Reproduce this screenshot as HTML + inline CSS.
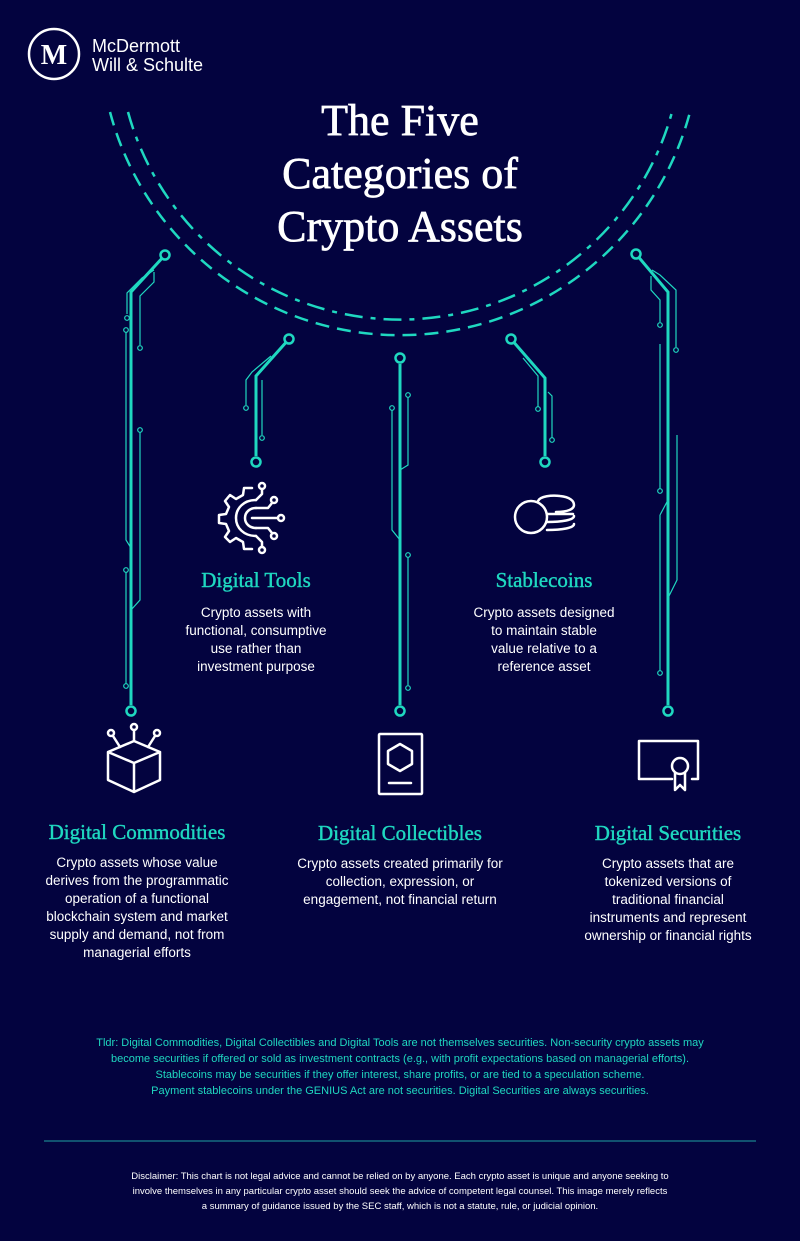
<!DOCTYPE html>
<html><head><meta charset="utf-8"><style>
html,body{margin:0;padding:0;background:#03033f;}
body{width:800px;height:1241px;overflow:hidden;position:relative;}
svg{position:absolute;left:0;top:0;}
.s{font-family:"Liberation Serif",serif;}
.a{font-family:"Liberation Sans",sans-serif;}
</style></head><body>
<svg width="800" height="1241" viewBox="0 0 800 1241">
<rect width="800" height="1241" fill="#03033f"/>
<!-- logo -->
<circle cx="54" cy="54" r="25" fill="none" stroke="#fff" stroke-width="2.5"/>
<text x="54" y="64" text-anchor="middle" class="s" font-size="28" font-weight="bold" fill="#fff">M</text>
<text x="92" y="52" class="a" font-size="18" fill="#fff">McDermott</text>
<text x="92" y="71" class="a" font-size="18" fill="#fff">Will &amp; Schulte</text>
<!-- title -->
<g class="s" font-size="44" fill="#fff" stroke="#fff" stroke-width="0.7" text-anchor="middle">
<text x="400" y="135">The Five</text>
<text x="400" y="188">Categories of</text>
<text x="400" y="241">Crypto Assets</text>
</g>
<!-- arcs -->
<g fill="none" stroke="#1fd8c0" stroke-width="2.5">
<path d="M110 112 A300 300 0 0 0 690 112" stroke-dasharray="14 8"/>
<path d="M128 112 A282 282 0 0 0 672 112" stroke-dasharray="18 8 5 8"/>
</g>
<!-- main circuit lines -->
<g fill="none" stroke="#1fd8c0" stroke-width="3">
<path d="M165 255 L131 292 L131 705"/>
<path d="M289 339 L256 376 L256 456"/>
<path d="M400 364 L400 705"/>
<path d="M511 339 L545 378 L545 456"/>
<path d="M636 254 L668 292 L668 705"/>
</g>
<g fill="#03033f" stroke="#1fd8c0" stroke-width="2.5">
<circle cx="165" cy="255" r="4.5"/><circle cx="131" cy="711" r="4.5"/>
<circle cx="289" cy="339" r="4.5"/><circle cx="256" cy="462" r="4.5"/>
<circle cx="400" cy="358" r="4.5"/><circle cx="400" cy="711" r="4.5"/>
<circle cx="511" cy="339" r="4.5"/><circle cx="545" cy="462" r="4.5"/>
<circle cx="636" cy="254" r="4.5"/><circle cx="668" cy="711" r="4.5"/>
</g>
<!-- thin side traces -->
<g fill="none" stroke="#1fd8c0" stroke-width="1.2">
<path d="M154 270 L142 278 L127 293 L127 314"/>
<path d="M154 272 L154 282 L140 296 L140 345"/>
<path d="M126 330 L126 540 L131 548"/>
<path d="M140 430 L140 600 L131 610"/>
<path d="M126 570 L126 684"/>
<path d="M271 356 L252 372 L246 380 L246 405"/>
<path d="M262 380 L262 435"/>
<path d="M408 395 L408 465 L400 470"/>
<path d="M392 408 L392 530 L400 540"/>
<path d="M408 555 L408 685"/>
<path d="M523 358 L538 376 L538 408"/>
<path d="M548 392 L552 396 L552 440"/>
<path d="M652 270 L660 275 L676 290 L676 347"/>
<path d="M651 276 L651 290 L660 300 L660 322"/>
<path d="M660 344 L660 490"/>
<path d="M660 515 L668 500 M660 515 L660 672"/>
<path d="M677 435 L677 580 L668 598"/>
</g>
<g fill="#03033f" stroke="#1fd8c0" stroke-width="1.2">
<circle cx="127" cy="318" r="2.3"/><circle cx="140" cy="348" r="2.3"/><circle cx="126" cy="330" r="2.3"/>
<circle cx="140" cy="430" r="2.3"/><circle cx="126" cy="570" r="2.3"/><circle cx="126" cy="686" r="2.3"/>
<circle cx="246" cy="408" r="2.3"/><circle cx="262" cy="438" r="2.3"/>
<circle cx="408" cy="395" r="2.3"/><circle cx="392" cy="408" r="2.3"/><circle cx="408" cy="555" r="2.3"/><circle cx="408" cy="688" r="2.3"/>
<circle cx="538" cy="409" r="2.3"/><circle cx="552" cy="440" r="2.3"/>
<circle cx="676" cy="350" r="2.3"/><circle cx="660" cy="325" r="2.3"/><circle cx="660" cy="491" r="2.3"/><circle cx="660" cy="673" r="2.3"/>
</g>
<!-- icons -->
<g fill="none" stroke="#fff" stroke-width="2.5" stroke-linecap="round" stroke-linejoin="round">
<path d="M252 488 L244 488 L243 495 L236 499 L230 495 L225 501 L229 507 L226 514 L219 515 L219 523 L226 524 L229 531 L225 537 L230 542 L236 538 L243 542 L244 549 L252 549"/>
<path d="M256 500 C244 500 236 508 236 518 C236 528 244 536 256 536"/>
<path d="M256 508 C250 508 245 512 245 518 C245 524 250 528 256 528"/>
<path d="M256 500 L262 494 L262 489 M256 508 L268 508 L272 503 M252 518 L278 518 M256 528 L268 528 L272 533 M256 536 L262 542 L262 547"/>
<circle cx="262" cy="486" r="3"/><circle cx="274" cy="500" r="3"/><circle cx="281" cy="518" r="3"/><circle cx="274" cy="536" r="3"/><circle cx="262" cy="550" r="3"/>
<circle cx="531" cy="517" r="16"/>
<path d="M538 501 C540 496 552 495 560 496 C570 497 574 501 574 505 C574 509 568 512 556 512 M547 514 L573 514 M547 522 C562 522 574 520 574 516 M547 530 C562 530 574 528 574 524"/>
<path d="M108 752 L134 741 L160 752 L134 763 Z M108 752 L108 780 L134 792 L160 780 L160 752 M134 763 L134 792"/>
<path d="M134 741 L134 730 M120 747 L113 736 M148 747 L155 736"/>
<circle cx="134" cy="727" r="3"/><circle cx="111" cy="733" r="3"/><circle cx="157" cy="733" r="3"/>
<rect x="379" y="734" width="43" height="60" rx="1"/>
<path d="M400 744 L412 751 L412 764 L400 771 L388 764 L388 751 Z M389 783 L411 783"/>
<path d="M672 779 L639 779 L639 741 L698 741 L698 779 L692 779"/>
<circle cx="680" cy="766" r="8"/>
<path d="M675 773 L675 790 L680 785 L685 790 L685 773"/>
</g>
<!-- headings -->
<g class="s" font-size="21" fill="#1fd8c0" stroke="#1fd8c0" stroke-width="0.4" text-anchor="middle">
<text x="256" y="587">Digital Tools</text>
<text x="544" y="587">Stablecoins</text>
<text x="137" y="839">Digital Commodities</text>
<text x="400" y="840">Digital Collectibles</text>
<text x="668" y="840">Digital Securities</text>
</g>
<g class="a" font-size="13.5" fill="#fff" text-anchor="middle">
<text x="256" y="617">Crypto assets with</text>
<text x="256" y="635">functional, consumptive</text>
<text x="256" y="653">use rather than</text>
<text x="256" y="671">investment purpose</text>
<text x="544" y="617">Crypto assets designed</text>
<text x="544" y="635">to maintain stable</text>
<text x="544" y="653">value relative to a</text>
<text x="544" y="671">reference asset</text>
<text x="137" y="867">Crypto assets whose value</text>
<text x="137" y="885">derives from the programmatic</text>
<text x="137" y="903">operation of a functional</text>
<text x="137" y="921">blockchain system and market</text>
<text x="137" y="939">supply and demand, not from</text>
<text x="137" y="957">managerial efforts</text>
<text x="400" y="868">Crypto assets created primarily for</text>
<text x="400" y="886">collection, expression, or</text>
<text x="400" y="904">engagement, not financial return</text>
<text x="668" y="868">Crypto assets that are</text>
<text x="668" y="886">tokenized versions of</text>
<text x="668" y="904">traditional financial</text>
<text x="668" y="922">instruments and represent</text>
<text x="668" y="940">ownership or financial rights</text>
</g>
<g class="a" font-size="11" fill="#1fd8c0" text-anchor="middle">
<text x="400" y="1046">Tldr: Digital Commodities, Digital Collectibles and Digital Tools are not themselves securities. Non-security crypto assets may</text>
<text x="400" y="1062">become securities if offered or sold as investment contracts (e.g., with profit expectations based on managerial efforts).</text>
<text x="400" y="1078">Stablecoins may be securities if they offer interest, share profits, or are tied to a speculation scheme.</text>
<text x="400" y="1094">Payment stablecoins under the GENIUS Act are not securities. Digital Securities are always securities.</text>
</g>
<line x1="44" y1="1141" x2="756" y2="1141" stroke="#1fa0a0" stroke-width="1"/>
<g class="a" font-size="9.5" fill="#fff" text-anchor="middle">
<text x="400" y="1179">Disclaimer: This chart is not legal advice and cannot be relied on by anyone. Each crypto asset is unique and anyone seeking to</text>
<text x="400" y="1194">involve themselves in any particular crypto asset should seek the advice of competent legal counsel. This image merely reflects</text>
<text x="400" y="1209">a summary of guidance issued by the SEC staff, which is not a statute, rule, or judicial opinion.</text>
</g>
</svg>
</body></html>
